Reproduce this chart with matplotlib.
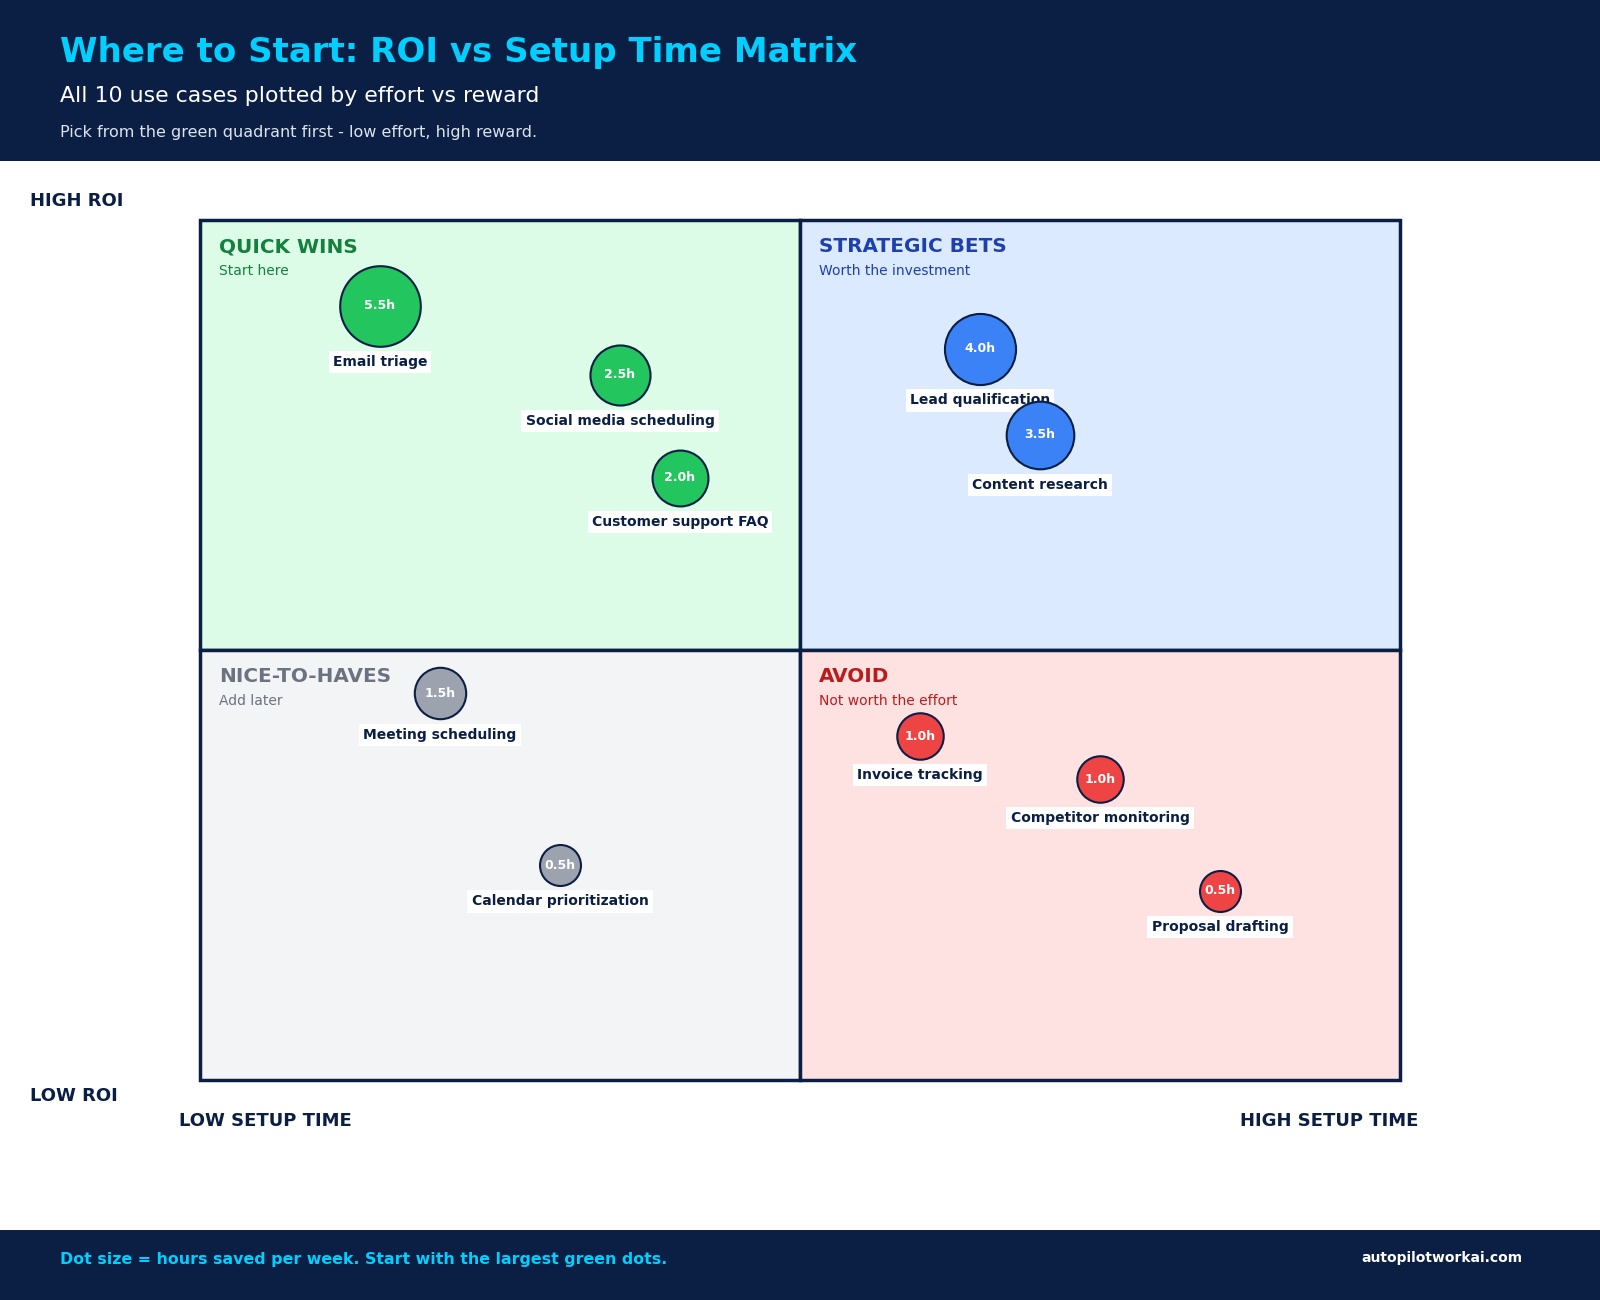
import numpy as np
import matplotlib.pyplot as plt
from matplotlib.patches import Rectangle

# data
names = ["Email triage", "Social media scheduling", "Customer support FAQ",
         "Lead qualification", "Content research",
         "Meeting scheduling", "Calendar prioritization",
         "Invoice tracking", "Competitor monitoring", "Proposal drafting"]
setup_time = [1.5, 3.5, 4.0, 6.5, 7.0, 2.0, 3.0, 6.0, 7.5, 8.5]
roi = [9.0, 8.2, 7.0, 8.5, 7.5, 4.5, 2.5, 4.0, 3.5, 2.2]
hours_saved = [5.5, 2.5, 2.0, 4.0, 3.5, 1.5, 0.5, 1.0, 1.0, 0.5]
quadrant = ["quick", "quick", "quick", "strategic", "strategic",
            "nice", "nice", "avoid", "avoid", "avoid"]

quad_titles = {"quick": "QUICK WINS", "strategic": "STRATEGIC BETS",
               "nice": "NICE-TO-HAVES", "avoid": "AVOID"}
quad_subs = {"quick": "Start here", "strategic": "Worth the investment",
             "nice": "Add later", "avoid": "Not worth the effort"}
quad_origin = {"quick": (0, 5), "strategic": (5, 5), "nice": (0, 0), "avoid": (5, 0)}
quad_fill = {"quick": "#DCFCE7", "strategic": "#DBEAFE", "nice": "#F3F4F6", "avoid": "#FEE2E2"}
quad_text = {"quick": "#15803D", "strategic": "#1E40AF", "nice": "#6B7280", "avoid": "#B91C1C"}
dot_color = {"quick": "#22C55E", "strategic": "#3B82F6", "nice": "#9CA3AF", "avoid": "#EF4444"}

NAVY = "#0B1F45"
CYAN = "#00CFFF"

fig = plt.figure(figsize=(16, 13), dpi=100)

# header / footer bands
fig.patches.append(Rectangle((0, 0.876), 1, 0.124, transform=fig.transFigure,
                             facecolor=NAVY, edgecolor="none", zorder=0))
fig.patches.append(Rectangle((0, 0), 1, 0.0538, transform=fig.transFigure,
                             facecolor=NAVY, edgecolor="none", zorder=0))

fig.text(0.0375, 0.9595, "Where to Start: ROI vs Setup Time Matrix", color=CYAN,
         fontsize=24.5, fontweight="bold", va="center")
fig.text(0.0375, 0.926, "All 10 use cases plotted by effort vs reward", color="white",
         fontsize=15.8, va="center")
fig.text(0.0375, 0.898, "Pick from the green quadrant first - low effort, high reward.",
         color="#DCE3EC", fontsize=11.5, va="center")

fig.text(0.0375, 0.0315, "Dot size = hours saved per week. Start with the largest green dots.",
         color=CYAN, fontsize=11.45, fontweight="bold", va="center")
fig.text(0.9516, 0.0323, "autopilotworkai.com", color="white", fontsize=10,
         fontweight="bold", va="center", ha="right")

# axis end labels
fig.text(0.019, 0.845, "HIGH ROI", color=NAVY, fontsize=13, fontweight="bold", va="center")
fig.text(0.019, 0.157, "LOW ROI", color=NAVY, fontsize=13, fontweight="bold", va="center")
fig.text(0.112, 0.138, "LOW SETUP TIME", color=NAVY, fontsize=13, fontweight="bold", va="center")
fig.text(0.8865, 0.138, "HIGH SETUP TIME", color=NAVY, fontsize=13, fontweight="bold",
         va="center", ha="right")

ax = fig.add_axes([0.125, 0.1692, 0.75, 0.6616])
ax.set_xlim(0, 10)
ax.set_ylim(0, 10)
ax.axis("off")

for q, (x0, y0) in quad_origin.items():
    ax.add_patch(Rectangle((x0, y0), 5, 5, facecolor=quad_fill[q], edgecolor=NAVY,
                           linewidth=2.5, zorder=1, clip_on=False))
    ax.text(x0 + 0.16, y0 + 4.69, quad_titles[q], color=quad_text[q], fontsize=14.4,
            fontweight="bold", va="center", zorder=2)
    ax.text(x0 + 0.16, y0 + 4.41, quad_subs[q], color=quad_text[q], fontsize=10,
            va="center", zorder=2)

z = 3
for name, x, y, h, q in zip(names, setup_time, roi, hours_saved, quadrant):
    s = 620 + 500 * h
    ax.scatter([x], [y], s=s, color=dot_color[q], edgecolor=NAVY, linewidth=1.5, zorder=z)
    ax.text(x, y, f"{h:.1f}h", color="white", fontsize=9, fontweight="bold",
            ha="center", va="center", zorder=z + 1)
    ax.annotate(name, (x, y), xytext=(0, -(np.sqrt(s) / 2 + 11.5)), textcoords="offset points",
                ha="center", va="center", fontsize=10, fontweight="bold", color=NAVY,
                bbox=dict(boxstyle="square,pad=0.3", facecolor="white", edgecolor="none"),
                zorder=z + 2)
    z += 3

fig.savefig("out.png", dpi=100, facecolor="white")
